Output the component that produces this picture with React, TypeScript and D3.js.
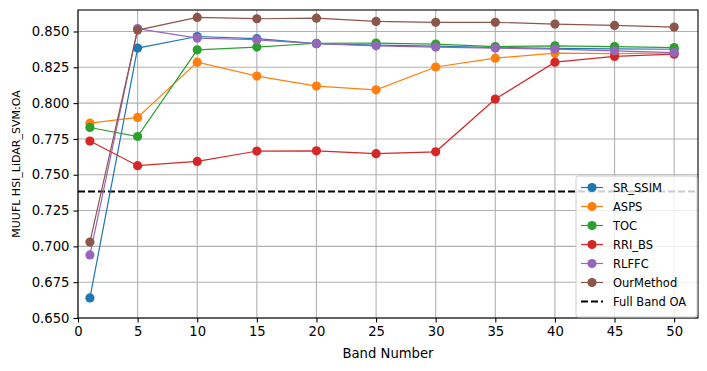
import React, { useEffect, useRef } from 'react';
import * as d3 from 'd3';

const bands = [1, 5, 10, 15, 20, 25, 30, 35, 40, 45, 50];
const methodNames = ['SR_SSIM', 'ASPS', 'TOC', 'RRI_BS', 'RLFFC', 'OurMethod'];
const methodColors = ['#1f77b4', '#ff7f0e', '#2ca02c', '#d62728', '#9467bd', '#8c564b'];

const srSsim = [0.664, 0.8384, 0.8465, 0.8450, 0.8415, 0.8405, 0.8398, 0.8388, 0.8382, 0.8378, 0.8376];
const asps = [0.786, 0.790, 0.8286, 0.8189, 0.8119, 0.8093, 0.8252, 0.8314, 0.8349, 0.8345, 0.8350];
const toc = [0.783, 0.7767, 0.8372, 0.8391, 0.8418, 0.8419, 0.8412, 0.8395, 0.8400, 0.8395, 0.8388];
const rriBs = [0.7735, 0.7563, 0.7593, 0.7665, 0.7667, 0.7647, 0.7660, 0.8028, 0.8286, 0.8326, 0.8342];
const rlffc = [0.694, 0.852, 0.8454, 0.8442, 0.8415, 0.8400, 0.8391, 0.8384, 0.8377, 0.8365, 0.8353];
const ourMethod = [0.703, 0.851, 0.8598, 0.8589, 0.8593, 0.8570, 0.8564, 0.8564, 0.8552, 0.8542, 0.8531];
const fullBandOA = 0.7383;

const xTicks = [0, 5, 10, 15, 20, 25, 30, 35, 40, 45, 50];
const yTicks = [0.65, 0.675, 0.7, 0.725, 0.75, 0.775, 0.8, 0.825, 0.85];

export default function App() {
  const svgRef = useRef<SVGSVGElement>(null);

  useEffect(() => {
    const svg = d3.select(svgRef.current);
    svg.selectAll('*').remove();
    const font = 'DejaVu Sans, sans-serif';
    const left = 78, right = 698, top = 10, bottom = 318;

    const x = d3.scaleLinear().domain([0, 52]).range([left, right]);
    const y = d3.scaleLinear().domain([0.65, 0.865]).range([bottom, top]);

    const series = [srSsim, asps, toc, rriBs, rlffc, ourMethod];

    // grid
    const g = svg.append('g');
    g.selectAll('.gx').data(xTicks).enter().append('line')
      .attr('x1', d => x(d)).attr('x2', d => x(d))
      .attr('y1', top).attr('y2', bottom)
      .attr('stroke', '#b0b0b0').attr('stroke-width', 1.1);
    g.selectAll('.gy').data(yTicks).enter().append('line')
      .attr('x1', left).attr('x2', right)
      .attr('y1', d => y(d)).attr('y2', d => y(d))
      .attr('stroke', '#b0b0b0').attr('stroke-width', 1.1);

    // full band line
    svg.append('line')
      .attr('x1', left).attr('x2', right)
      .attr('y1', y(fullBandOA)).attr('y2', y(fullBandOA))
      .attr('stroke', '#000').attr('stroke-width', 2).attr('stroke-dasharray', '7,3');

    const line = d3.line<number>().x((d, i) => x(bands[i])).y(d => y(d));
    series.forEach((s, k) => {
      svg.append('path').datum(s)
        .attr('d', line).attr('fill', 'none')
        .attr('stroke', methodColors[k]).attr('stroke-width', 1.2);
      svg.selectAll(null).data(s).enter().append('circle')
        .attr('cx', (d, i) => x(bands[i])).attr('cy', d => y(d))
        .attr('r', 4.6).attr('fill', methodColors[k]);
    });

    // axes frame
    svg.append('rect').attr('x', left).attr('y', top)
      .attr('width', right - left).attr('height', bottom - top)
      .attr('fill', 'none').attr('stroke', '#000').attr('stroke-width', 1.1);

    const xAxis = svg.append('g').attr('transform', `translate(0,${bottom})`)
      .call(d3.axisBottom(x).tickValues(xTicks).tickSize(4.5).tickPadding(4).tickFormat(d3.format('d')));
    const yAxis = svg.append('g').attr('transform', `translate(${left},0)`)
      .call(d3.axisLeft(y).tickValues(yTicks).tickSize(4.5).tickPadding(4).tickFormat(d3.format('.3f')));
    [xAxis, yAxis].forEach(a => {
      a.select('.domain').remove();
      a.selectAll('text').attr('font-family', font).attr('font-size', 13.2).attr('fill', '#000');
      a.selectAll('line').attr('stroke', '#000').attr('stroke-width', 1.1);
    });

    svg.append('text').attr('x', (left + right) / 2).attr('y', 358)
      .attr('text-anchor', 'middle').attr('font-family', font).attr('font-size', 13.2)
      .text('Band Number');
    svg.append('text').attr('transform', `translate(20,${(top + bottom) / 2}) rotate(-90)`)
      .attr('text-anchor', 'middle').attr('font-family', font).attr('font-size', 11)
      .text('MUUFL HSI_LiDAR_SVM:OA');

    // legend
    const lx = 576, ly = 176, lw = 121, lh = 141;
    svg.append('rect').attr('x', lx).attr('y', ly).attr('width', lw).attr('height', lh)
      .attr('rx', 2.5).attr('fill', 'rgba(255,255,255,0.8)').attr('stroke', '#cccccc');
    const items = methodNames.map((n, k) => ({ name: n, color: methodColors[k], dashed: false }))
      .concat([{ name: 'Full Band OA', color: '#000', dashed: true }]);
    items.forEach((it, k) => {
      const yy = ly + 11.5 + k * 19;
      const gi = svg.append('g');
      gi.append('line').attr('x1', lx + 5).attr('x2', lx + 27).attr('y1', yy).attr('y2', yy)
        .attr('stroke', it.color).attr('stroke-width', it.dashed ? 2 : 1.2)
        .attr('stroke-dasharray', it.dashed ? '7,3' : null);
      if (!it.dashed) {
        gi.append('circle').attr('cx', lx + 16).attr('cy', yy).attr('r', 4.6).attr('fill', it.color);
      }
      gi.append('text').attr('x', lx + 37).attr('y', yy + 4).attr('font-family', font)
        .attr('font-size', 11.5).attr('fill', '#000').text(it.name);
    });
  }, []);

  return <svg ref={svgRef} width={707} height={371} style={{ position: 'absolute', left: 0, top: 0 }}></svg>;
}
